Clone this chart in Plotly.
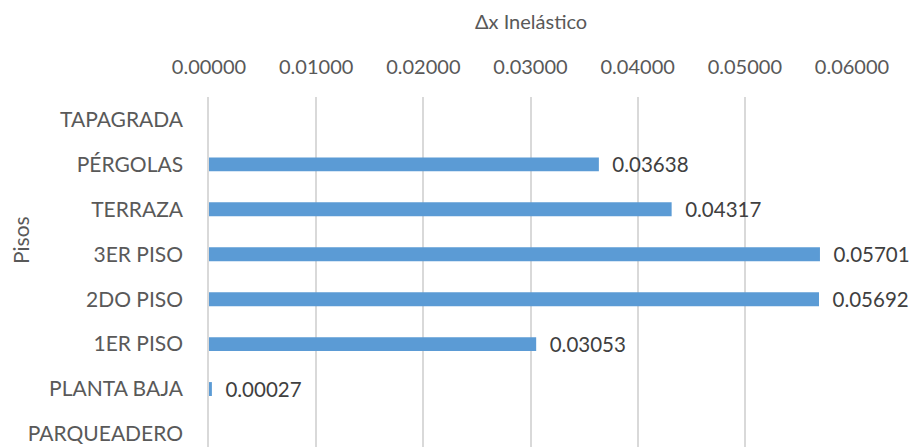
import plotly.graph_objects as go

# ── Data ──────────────────────────────────────────────────────────────
pisos = ["PARQUEADERO", "PLANTA BAJA", "1ER PISO", "2DO PISO",
         "3ER PISO", "TERRAZA", "PÉRGOLAS", "TAPAGRADA"]
dx_inelastico = [None, 0.00027, 0.03053, 0.05692, 0.05701, 0.04317, 0.03638, None]
x_ticks = [0.0, 0.01, 0.02, 0.03, 0.04, 0.05, 0.06]

# ── Style ─────────────────────────────────────────────────────────────
BAR = "#5B9BD5"
GRID = "#D9D9D9"
TEXT = "#595959"
FONT = "Lato"

# page body has an 8px margin, so the figure is laid out 8px in from the window
L, T, PW, PH = 201, 89, 643, 350

labels = ["" if v is None else f"{v:.5f}" for v in dx_inelastico]

fig = go.Figure(
    go.Bar(
        x=dx_inelastico,
        y=pisos,
        orientation="h",
        marker=dict(color=BAR, line=dict(width=0)),
        width=0.31,
        text=labels,
        texttemplate="  %{text}",
        textposition="outside",
        constraintext="none",
        textfont=dict(family=FONT, size=20.5, color="#404040"),
        cliponaxis=False,
        showlegend=False,
    )
)

fig.update_layout(
    width=917, height=447,
    margin=dict(l=L, r=917 - L - PW, t=T, b=447 - T - PH, autoexpand=False),
    paper_bgcolor="white",
    plot_bgcolor="white",
    font=dict(family=FONT, color=TEXT, size=20),
    annotations=[
        dict(text="Δx Inelástico", xref="paper", yref="paper",
             x=0.5, y=1 + (T - 13) / PH, xanchor="center", yanchor="middle",
             showarrow=False, font=dict(family=FONT, size=20, color=TEXT)),
        dict(text="Pisos", xref="paper", yref="paper", textangle=-90,
             x=-(L - 12) / PW, y=(T + PH - 232) / PH,
             xanchor="center", yanchor="middle",
             showarrow=False, font=dict(family=FONT, size=21, color=TEXT)),
    ],
)

fig.update_xaxes(
    side="top",
    range=[0, 0.06],
    tickvals=x_ticks,
    tickformat=".5f",
    showgrid=True, gridcolor=GRID, gridwidth=1.5,
    zeroline=False,
    showline=False,
    ticks="",
    automargin=False,
    ticklabelstandoff=18,
    tickfont=dict(family=FONT, size=20, color=TEXT),
    fixedrange=True,
)
fig.update_yaxes(
    categoryorder="array", categoryarray=pisos,
    range=[-0.29, 7.5],
    showgrid=False,
    showline=True, linecolor=GRID, linewidth=1.5,
    ticks="",
    automargin=False,
    ticklabelstandoff=20,
    tickfont=dict(family=FONT, size=21, color=TEXT),
    fixedrange=True,
)

fig.write_html("out.html")
